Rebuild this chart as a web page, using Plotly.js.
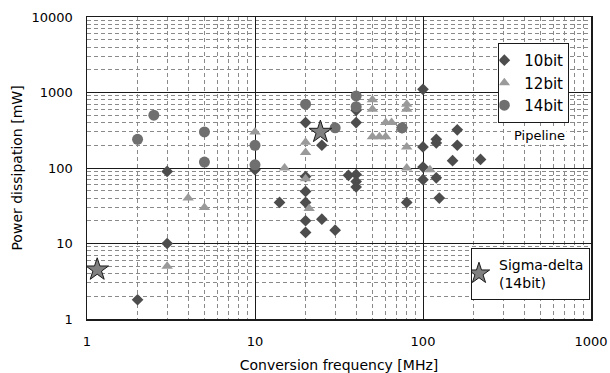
<!DOCTYPE html>
<html>
<head>
<meta charset="utf-8">
<script src="https://cdn.plot.ly/plotly-3.0.1.min.js"></script>
<style>html,body{margin:0;padding:0;background:#fff;}#chart{width:610px;height:373px;}</style>
</head>
<body>
<div id="chart"></div>
<script>
// 10bit (diamonds)
const bit10_f = [2, 3, 3, 10, 14, 20, 20, 20, 20, 20, 20, 25, 25, 30, 36, 40, 40, 40, 40, 40, 75, 80, 100, 100, 100, 100, 120, 120, 120, 125, 150, 160, 160, 220];
const bit10_p = [1.8, 10, 90, 95, 35, 400, 77, 49, 35, 20, 14, 200, 21, 15, 80, 82, 66, 56, 580, 400, 340, 35, 1100, 190, 103, 70, 240, 215, 74, 40, 125, 320, 200, 130];
// 12bit (triangles)
const bit12_f = [3, 4, 5, 10, 15, 20, 20, 20, 21, 50, 50, 50, 55, 60, 60, 65, 80, 80, 80, 80, 110];
const bit12_p = [5, 40, 30, 300, 100, 220, 160, 72, 29, 800, 600, 260, 260, 260, 400, 400, 700, 600, 190, 100, 95];
// 14bit (circles)
const bit14_f = [2, 2.5, 5, 5, 10, 10, 20, 30, 40, 40, 75];
const bit14_p = [240, 500, 300, 120, 200, 110, 700, 340, 900, 650, 340];
// Sigma-delta (14bit) stars
const sd_f = [1.15, 24.5];
const sd_p = [4.5, 300];

const xTicks = [1, 10, 100, 1000];
const xTickText = ['1', '10', '100', '1000'];
const yTicks = [1, 10, 100, 1000, 10000];
const yTickText = ['1', '10', '100', '1000', '10000'];

const FONT = 'DejaVu Sans, Liberation Sans, Arial, sans-serif';
const INK = '#000';

const traces = [
  {x: bit10_f, y: bit10_p, name: '10bit', mode: 'markers', type: 'scatter',
   marker: {symbol: 'diamond', size: 9, color: '#4d4d4d'}, legend: 'legend'},
  {x: bit12_f, y: bit12_p, name: '12bit', mode: 'markers', type: 'scatter',
   marker: {symbol: 'triangle-up', size: 10, color: '#9a9a9a'}, legend: 'legend'},
  {x: bit14_f, y: bit14_p, name: '14bit', mode: 'markers', type: 'scatter',
   marker: {symbol: 'circle', size: 11, color: '#6f6f6f'}, legend: 'legend'},
  {x: sd_f, y: sd_p, name: 'Sigma-delta<br>(14bit)', mode: 'markers', type: 'scatter',
   marker: {symbol: 'star', size: 17, color: '#808080', line: {color: '#1a1a1a', width: 1}}, legend: 'legend2'}
];

const minorGrid = {dtick: 'D1', showgrid: true, gridcolor: '#8a8a8a', griddash: '4px,3px', gridwidth: 1, ticks: ''};

const layout = {
  width: 610, height: 373,
  margin: {l: 87, r: 19, t: 17, b: 54},
  paper_bgcolor: '#fff', plot_bgcolor: '#fff',
  font: {family: FONT, size: 13, color: INK},
  showlegend: true,
  xaxis: {
    type: 'log', range: [0, 3],
    tickmode: 'array', tickvals: xTicks, ticktext: xTickText,
    showgrid: true, gridcolor: '#1a1a1a', gridwidth: 1,
    minor: minorGrid,
    showline: true, mirror: true, linecolor: '#1a1a1a', linewidth: 1.5,
    ticks: '', ticklabelstandoff: 10, zeroline: false,
    tickfont: {size: 13, family: FONT, color: INK},
    title: {text: 'Conversion frequency [MHz]', font: {size: 14, family: FONT, color: INK}, standoff: 13}
  },
  yaxis: {
    type: 'log', range: [0, 4],
    tickmode: 'array', tickvals: yTicks, ticktext: yTickText,
    showgrid: true, gridcolor: '#1a1a1a', gridwidth: 1,
    minor: minorGrid,
    showline: true, mirror: true, linecolor: '#1a1a1a', linewidth: 1.5,
    ticks: '', ticklabelstandoff: 10, zeroline: false,
    tickfont: {size: 13, family: FONT, color: INK},
    title: {text: 'Power dissipation [mW]', font: {size: 14, family: FONT, color: INK}, standoff: 5}
  },
  legend: {
    x: 0.957, xanchor: 'right', y: 0.914, yanchor: 'top',
    bgcolor: '#fff', bordercolor: '#1a1a1a', borderwidth: 1,
    font: {size: 15, family: FONT, color: INK},
    indentation: -15, itemwidth: 30, tracegroupgap: 0
  },
  legend2: {
    x: 0.998, xanchor: 'right', y: 0.236, yanchor: 'top',
    bgcolor: '#fff', bordercolor: '#1a1a1a', borderwidth: 1,
    font: {size: 14, family: FONT, color: INK},
    indentation: -13, itemwidth: 30
  },
  annotations: [
    {text: 'Pipeline', xref: 'paper', yref: 'paper', x: 0.897, y: 0.606,
     xanchor: 'center', yanchor: 'middle', showarrow: false,
     font: {size: 13, family: FONT, color: INK}, bgcolor: '#fff'}
  ]
};

Plotly.newPlot('chart', traces, layout, {displayModeBar: false, staticPlot: true});
</script>
</body>
</html>
